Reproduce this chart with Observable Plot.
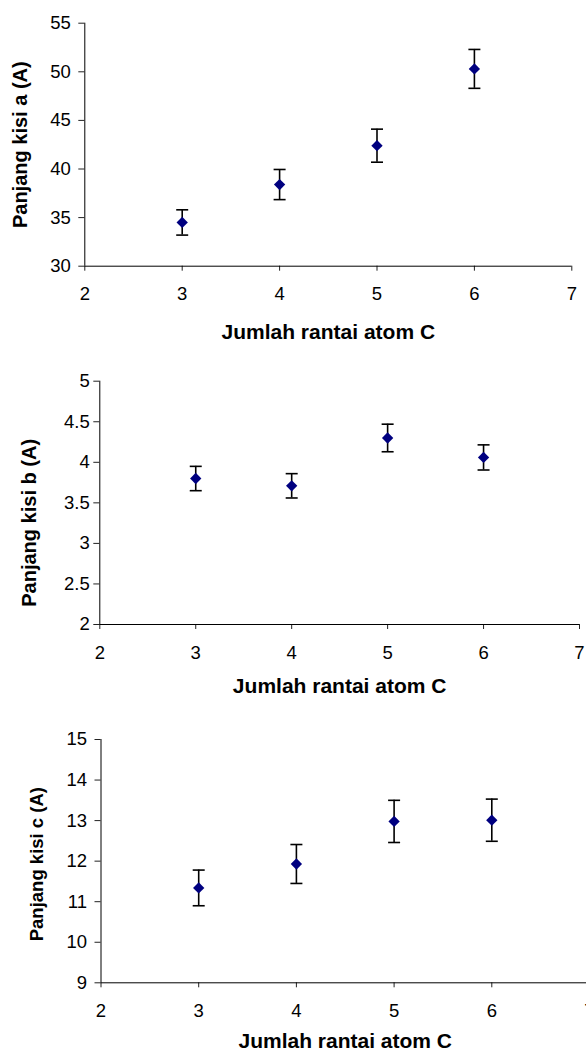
<!DOCTYPE html>
<html>
<head>
<meta charset="utf-8">
<script src="https://cdn.jsdelivr.net/npm/d3@7"></script>
<script src="https://cdn.jsdelivr.net/npm/@observablehq/plot@0.6"></script>
<style>
  html, body { margin: 0; padding: 0; background: #fff; overflow: hidden; }
  #root { width: 586px; height: 1054px; overflow: hidden; }
  #root svg { display: block; max-width: none; }
</style>
</head>
<body>
<div id="root"></div>
<script>
// ---- data ----
const atoms = [3, 4, 5, 6];
const xTicks = [2, 3, 4, 5, 6, 7];
const xTitle = "Jumlah rantai atom C";

const latticeA = [34.5, 38.4, 42.4, 50.3];
const errA = [1.3, 1.55, 1.7, 2.0];
const ticksA = [30, 35, 40, 45, 50, 55];
const titleA = "Panjang kisi a (A)";

const latticeB = [3.80, 3.71, 4.30, 4.06];
const errB = [0.15, 0.15, 0.17, 0.155];
const ticksB = [2, 2.5, 3, 3.5, 4, 4.5, 5];
const titleB = "Panjang kisi b (A)";

const latticeC = [11.34, 11.93, 12.98, 13.01];
const errC = [0.44, 0.48, 0.52, 0.52];
const ticksC = [9, 10, 11, 12, 13, 14, 15];
const titleC = "Panjang kisi c (A)";

const FONT = "'Liberation Sans', Arial, Helvetica, sans-serif";

// horizontal cap for error bars (custom symbol)
const capSymbol = {
  draw(ctx) { ctx.moveTo(-6, 0); ctx.lineTo(6, 0); }
};

function panel(cfg) {
  const data = atoms.map((x, i) => ({x, y: cfg.values[i], lo: cfg.values[i] - cfg.errs[i], hi: cfg.values[i] + cfg.errs[i]}));
  const ymin = cfg.ticks[0], ymax = cfg.ticks[cfg.ticks.length - 1];
  return Plot.plot({
    width: cfg.width,
    height: cfg.height,
    marginTop: cfg.mt,
    marginBottom: cfg.mb,
    marginLeft: cfg.ml,
    marginRight: cfg.mr,
    style: {fontFamily: FONT, color: "#000", background: "#fff", overflow: "visible"},
    x: {domain: [2, 7], ticks: xTicks},
    y: {domain: [ymin, ymax], ticks: cfg.ticks},
    marks: [
      Plot.axisY({ticks: cfg.ticks, tickSize: 6, tickPadding: cfg.ytp, fontSize: 18.5, label: null, tickFormat: d => String(d), stroke: "#222"}),
      Plot.axisX({ticks: xTicks, tickSize: 5, tickPadding: 16, fontSize: 18.5, label: null, tickFormat: d => String(d), stroke: "#222"}),
      Plot.ruleX([2], {stroke: "#000", strokeWidth: 1}),
      Plot.ruleY([ymin], {stroke: "#000", strokeWidth: 1}),
      Plot.ruleX(data, {x: "x", y1: "lo", y2: "hi", stroke: "#000", strokeWidth: 1.6}),
      Plot.dot(data, {x: "x", y: "hi", symbol: capSymbol, r: 6, stroke: "#000", strokeWidth: 1.6, fill: "none"}),
      Plot.dot(data, {x: "x", y: "lo", symbol: capSymbol, r: 6, stroke: "#000", strokeWidth: 1.6, fill: "none"}),
      Plot.dot(data, {x: "x", y: "y", symbol: "diamond2", r: 5.1, fill: "#000080", stroke: "none"}),
      Plot.text([xTitle], {frameAnchor: "bottom", lineAnchor: "middle", textAnchor: "middle", dy: cfg.xtdy, fontSize: 21, fontWeight: "bold", fill: "#000"}),
      Plot.text([cfg.title], {frameAnchor: "left", rotate: -90, textAnchor: "middle", lineAnchor: "middle", dx: cfg.ytdx, dy: cfg.ytdy, fontSize: cfg.ytfs, fontWeight: "bold", fill: "#000"})
    ]
  });
}

const root = document.getElementById("root");
root.appendChild(panel({values: latticeA, errs: errA, ticks: ticksA, title: titleA,
  width: 586, height: 350, mt: 22.7, mb: 84.3, ml: 84.3, mr: 14.7, ytp: 8, xtdy: 66, ytdx: -64, ytdy: 0, ytfs: 20}));
root.appendChild(panel({values: latticeB, errs: errB, ticks: ticksB, title: titleB,
  width: 586, height: 350, mt: 30.7, mb: 76, ml: 99.3, mr: 7, ytp: 4, xtdy: 62, ytdx: -70.6, ytdy: 20, ytfs: 20}));
root.appendChild(panel({values: latticeC, errs: errC, ticks: ticksC, title: titleC,
  width: 590, height: 354, mt: 39, mb: 71.7, ml: 100.5, mr: 1, ytp: 8, xtdy: 58, ytdx: -63.5, ytdy: 3, ytfs: 18.5}));
</script>
</body>
</html>
